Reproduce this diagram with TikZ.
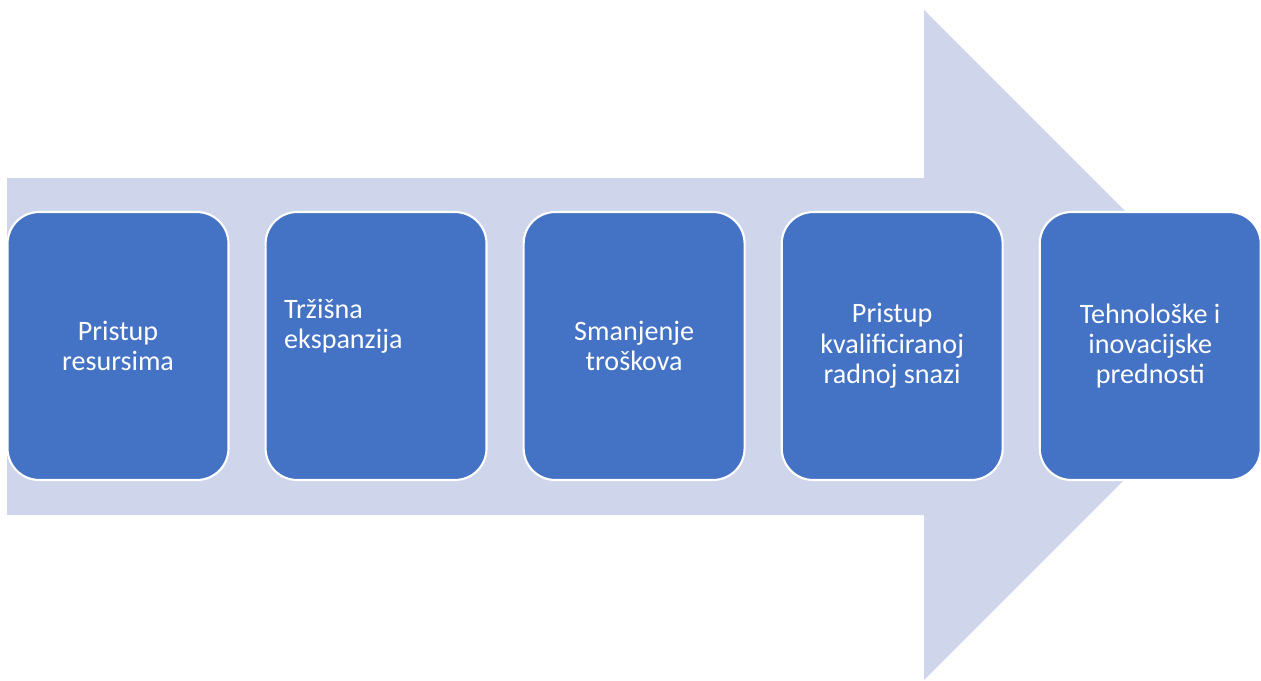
\documentclass[tikz,border=0pt]{standalone}
\usepackage{fontspec}
\setmainfont{Carlito}
\usetikzlibrary{positioning}
\definecolor{arrowfill}{HTML}{CFD5EA}
\definecolor{boxfill}{HTML}{4472C4}
\tikzset{
	stepbox/.style={draw=white, line width=1.2pt, fill=boxfill, rounded corners=18pt,
		minimum width=4.42cm, minimum height=5.36cm, text=white, align=center,
		font=\fontsize{16}{17.3}\selectfont},
	steptext/.style={text=white, align=left, font=\fontsize{16}{17.3}\selectfont}
}
\begin{document}
\begin{tikzpicture}[x=0.02cm, y=-0.02cm, node distance=0.7cm]
	\useasboundingbox (0,0) rectangle (1261,680);
	
	%big arrow:
	\fill [arrowfill] (7,178) -- (924,178) -- (924,10) -- (1259,345)
		-- (924,680) -- (924,515) -- (7,515) -- cycle;
	
	%steps:
	\node [stepbox] (res) at (118,346) {Pristup\\resursima};
	\node [stepbox, right=of res] (eks) {};
	\node [steptext, anchor=west, xshift=0.27cm, yshift=0.4cm] (ekstext) at (eks.west) {Tržišna\\ekspanzija};
	\node [stepbox, right=of eks] (tro) {Smanjenje\\troškova};
	\node [stepbox, right=of tro] (rad) {Pristup\\kvalificiranoj\\radnoj snazi};
	\node [stepbox, right=of rad] (teh) {Tehnološke i\\inovacijske\\prednosti};

\end{tikzpicture}
\end{document}
